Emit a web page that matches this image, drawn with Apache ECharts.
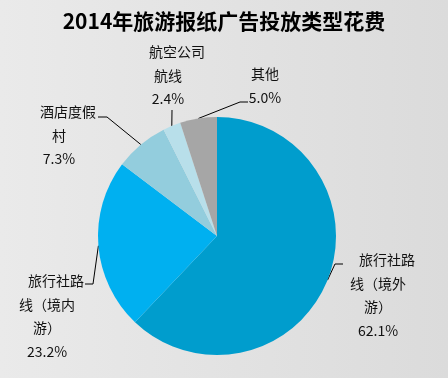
<!DOCTYPE html>
<html>
<head>
<meta charset="utf-8">
<script src="https://cdn.jsdelivr.net/npm/echarts@6/dist/echarts.min.js"></script>
<style>
  html, body { margin: 0; padding: 0; }
  #main { width: 448px; height: 378px; }
</style>
</head>
<body>
<div id="main"></div>
<script>
var titleText = '2014年旅游报纸广告投放类型花费';
var categories = ['旅行社路线（境外游）', '旅行社路线（境内游）', '酒店度假村', '航空公司航线', '其他'];
var shares = [62.1, 23.2, 7.3, 2.4, 5.0];
// wrapped label lines, as in the source
var labelLines = [
	['旅行社路', '线（境外', '游）'],
	['旅行社路', '线（境内', '游）'],
	['酒店度假', '村'],
	['航空公司', '航线'],
	['其他']
];
var colors = ['#009dcd', '#00b0f0', '#93cddd', '#b8dfea', '#a6a6a6'];

// label spots: [center x, first line center y], leader bend and end points
var labelSpots = [[378, 260], [47, 281], [59, 112], [168, 52], [265, 74]];
var leaderBends = [[335, 264], [93, 284], [107, 117], [172, 110], [240, 102]];
var leaderEnds = [[343, 264], [85, 284], [98, 117], [172, 110], [248, 102]];

var myChart = echarts.init(document.getElementById('main'));

var pieData = categories.map(function (name, i) {
	return { name: name, value: shares[i] };
});

option = {
	backgroundColor: {
		type: 'linear', x: 0, y: 0, x2: 1, y2: 0,
		colorStops: [{ offset: 0, color: '#eaeaea' }, { offset: 1, color: '#dbdbdb' }]
	},
	color: colors,
	title: {
		text: titleText,
		left: 'center',
		top: 6,
		textStyle: {
			fontFamily: 'Noto Sans CJK SC',
			fontSize: 21,
			fontWeight: 'bold',
			color: '#000'
		}
	},
	series: [
		{
			type: 'pie',
			center: [217, 236],
			radius: [0, 119],
			startAngle: 90,
			clockwise: true,
			silent: true,
			animation: false,
			data: pieData,
			itemStyle: { borderWidth: 0 },
			label: {
				show: true,
				position: 'outside',
				fontFamily: 'Noto Sans CJK SC',
				fontSize: 14,
				lineHeight: 23.5,
				color: '#111',
				formatter: function (p) {
					var lines = labelLines[p.dataIndex].slice();
					if (lines.length > 1) lines[0] = '{a|' + lines[0] + '}';
					lines.push(shares[p.dataIndex].toFixed(1) + '%');
					return lines.join('\n');
				},
				rich: {
					a: {
						fontFamily: 'Noto Sans CJK SC',
						fontSize: 14,
						lineHeight: 23.5,
						color: '#111',
						padding: [0, 0, 0, 18]
					}
				}
			},
			labelLine: {
				show: true,
				length: 10,
				length2: 8,
				lineStyle: { color: '#000', width: 1 }
			},
			labelLayout: function (p) {
				var i = p.dataIndex;
				var start = p.labelLinePoints ? p.labelLinePoints[0] : leaderBends[i];
				return {
					x: labelSpots[i][0],
					y: labelSpots[i][1] - 11.75,
					align: 'center',
					verticalAlign: 'top',
					labelLinePoints: [start, leaderBends[i], leaderEnds[i]]
				};
			}
		}
	]
};

myChart.setOption(option);
</script>
</body>
</html>
